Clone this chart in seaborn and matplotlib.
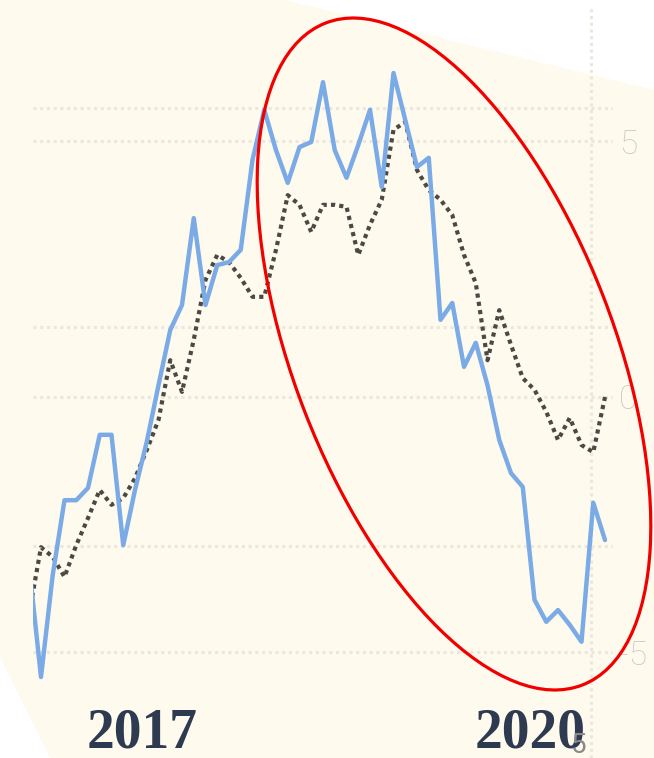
import matplotlib
matplotlib.use("Agg")
import matplotlib.pyplot as plt
import matplotlib.transforms as mtransforms
from matplotlib.patches import Ellipse, Polygon
import numpy as np
import seaborn as sns

# monthly values (right axis units)
blue_vals = [-3.33, -5.48, -3.48, -2.02, -2.02, -1.78, -0.74, -0.74, -2.90, -1.82,
             -0.88, 0.23, 1.31, 1.80, 3.50, 1.80, 2.58, 2.64, 2.88, 4.64,
             5.62, 4.83, 4.19, 4.89, 4.99, 6.16, 4.83, 4.29, 4.93, 5.62,
             4.11, 6.34, 5.42, 4.50, 4.68, 1.51, 1.84, 0.59, 1.06, 0.23,
             -0.84, -1.49, -1.76, -3.97, -4.40, -4.17, -4.46, -4.79, -2.07, -2.80]
black_vals = [-4.23, -2.94, -3.13, -3.52, -2.90, -2.37, -1.82, -2.11, -1.98, -1.59,
              -1.04, -0.45, 0.72, 0.10, 1.12, 2.29, 2.78, 2.64, 2.33, 1.96,
              1.96, 2.88, 3.95, 3.76, 3.23, 3.76, 3.76, 3.72, 2.78, 3.37,
              3.86, 5.23, 5.38, 4.44, 4.05, 3.86, 3.56, 2.78, 2.23, 0.72,
              1.70, 1.02, 0.37, 0.14, -0.29, -0.84, -0.41, -0.94, -1.08, 0.00]
months = np.arange(len(blue_vals))

year_labels = ["2017", "2020"]
year_pos = [9.6, 42.6]
right_ticks = [-5, 0, 5]
left_ticks = [-1, 0, 1]
xgrid_pos = [47.8]

W, H = 654, 758
cream = "#fffaee"
grid_kw = dict(color="#ebe7dd", linewidth=2.2, linestyle=(0, (1, 1.2)))

sns.set_style("white")
fig = plt.figure(figsize=(W / 100, H / 100), dpi=100)
fig.patch.set_facecolor("white")

# background shape
bg = fig.add_axes([0, 0, 1, 1], zorder=0)
bg.set_xlim(0, W)
bg.set_ylim(H, 0)
bg.axis("off")
bg.add_patch(Polygon([(0, 0), (285, 0), (W, 90), (W, H), (50, H), (0, 657)],
                     closed=True, facecolor=cream, edgecolor="none"))

# main axes (secondary grid, its labels are cut off on the left)
ax = fig.add_axes([33 / W, 0, 580 / W, 753 / H], zorder=1)
ax.patch.set_alpha(0)
ax.set_xlim(0.32, 49.68)
ax.set_ylim(-1.968, 1.470)
ax.set_yticks(left_ticks)
ax.set_xticks(xgrid_pos)
ax.grid(True, **grid_kw)
for s in ax.spines.values():
    s.set_visible(False)

axr = ax.twinx()
ax.tick_params(left=False, right=False, bottom=False, labelleft=False, labelbottom=False)
axr.set_ylim(-7.065, 7.671)
axr.set_yticks(right_ticks)
axr.set_yticklabels([str(t) for t in right_ticks])
axr.tick_params(axis="y", left=False, right=False, pad=1.0, labelsize=24, labelcolor="#cdc9c0")
for lab in axr.get_yticklabels():
    lab.set_fontfamily("Roboto")
    lab.set_fontweight("light")
axr.grid(True, axis="y", **grid_kw)
axr.set_axisbelow(True)
for s in axr.spines.values():
    s.set_visible(False)

sns.lineplot(x=months, y=black_vals, ax=axr, color="#4a4943", linewidth=3.0,
             linestyle=(0, (1, 1)))
sns.lineplot(x=months, y=blue_vals, ax=axr, color="#7aabe6", linewidth=3.2)
axr.set_xlim(0.32, 49.68)
axr.set_xlabel("")
axr.set_ylabel("")

# year labels under the lines
trans = mtransforms.blended_transform_factory(ax.transData, ax.transAxes)
for lab, xp in zip(year_labels, year_pos):
    ax.text(xp, 0.0133, lab, transform=trans, ha="center", va="baseline",
            fontsize=40, fontweight="bold", family="Liberation Serif",
            color="#2e3a50", zorder=5)
ax.text(46.8, 0.006, "5", transform=trans, ha="center", va="baseline",
        fontsize=20, family="Roboto", color="#8a8a8a", zorder=6)

# red highlight ellipse
ov = fig.add_axes([0, 0, 1, 1], zorder=3)
ov.set_xlim(0, W)
ov.set_ylim(H, 0)
ov.axis("off")
ov.patch.set_alpha(0)
ov.add_patch(Ellipse((454, 354), 710, 320, angle=68.8, fill=False,
                     edgecolor="#f20000", linewidth=2.3))

fig.savefig("out.png", dpi=100)
